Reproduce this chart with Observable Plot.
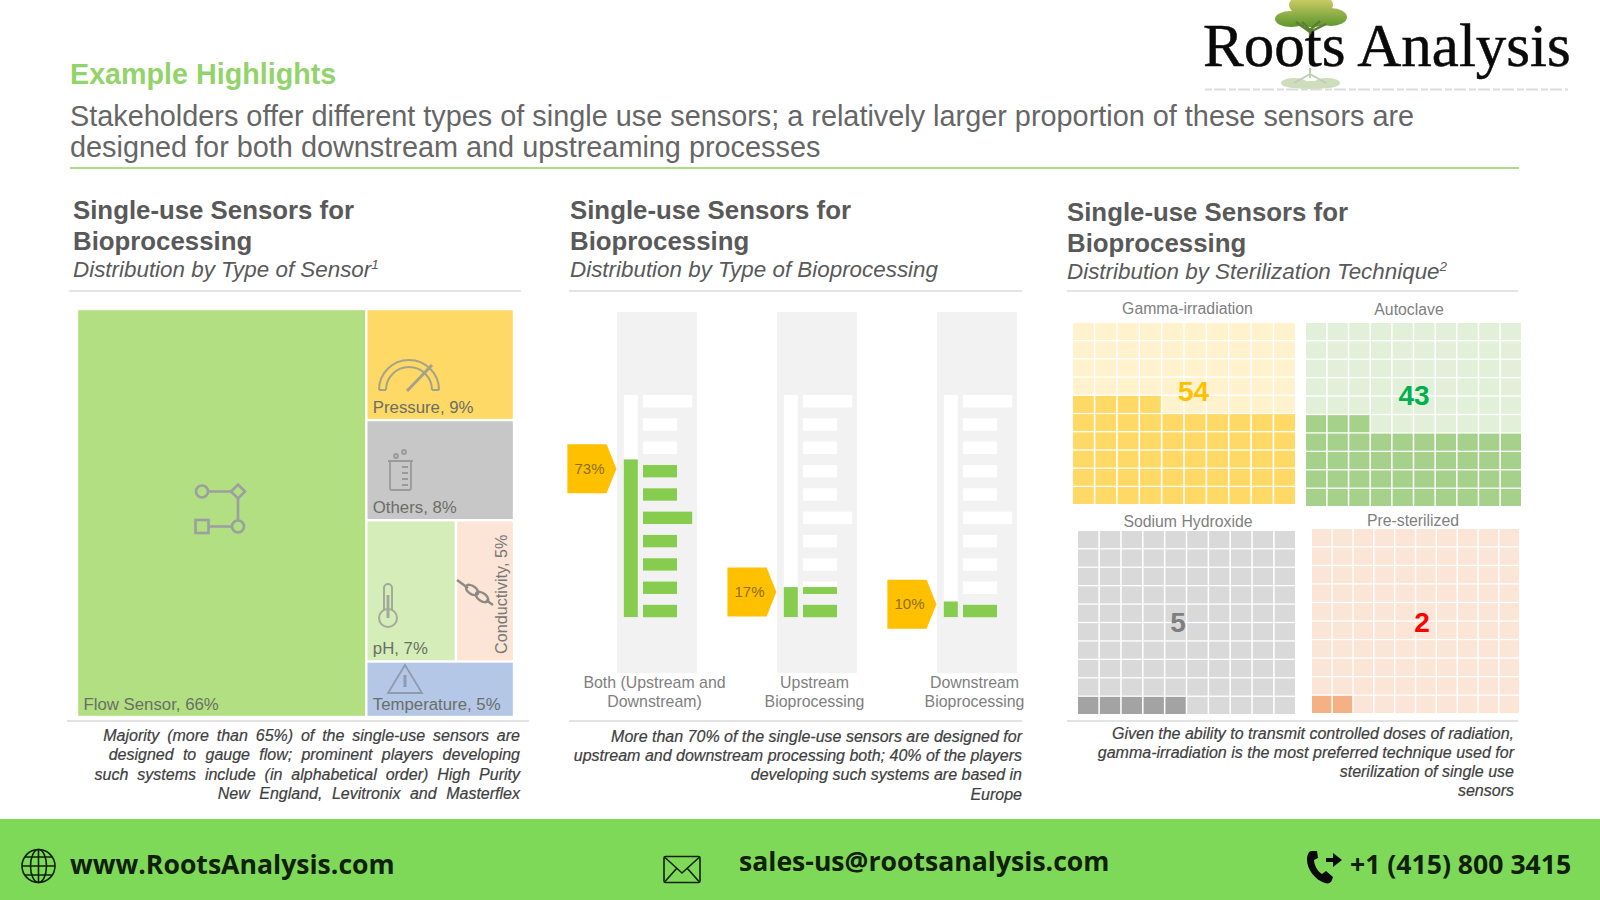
<!DOCTYPE html>
<html><head><meta charset="utf-8">
<script src="https://cdn.jsdelivr.net/npm/d3@7"></script>
<script src="https://cdn.jsdelivr.net/npm/@observablehq/plot@0.6"></script>
<style>
html,body{margin:0;padding:0;background:#fff}
#page{position:relative;width:1600px;height:900px;overflow:hidden;font-family:"Liberation Sans",Arial,sans-serif;background:#fff}
#page>*{position:absolute}
.t{white-space:nowrap;line-height:1}
.h{font-weight:700;font-size:25.8px;color:#595959}
.s{font-style:italic;font-size:22.4px;color:#595959}
.r{height:2px;background:#e3e3e3}
.c{font-style:italic;font-size:16px;color:#404040;text-align:right;-webkit-text-stroke:.2px #404040}
.f{font-family:"Open Sans",sans-serif;font-weight:700;font-size:26.6px;color:#10200a}
sup{font-size:60%;line-height:0}
</style></head><body><div id="page"></div>
<script>
// ---------- Panel 1: sensor type treemap ----------
const sensors = ["Flow Sensor","Pressure","Others","pH","Conductivity","Temperature"];
const sensorShares = [66,9,8,7,5,5];
const sensorAreas = [66.2,9.2,8.3,7.1,4.6,4.6];   // tile areas
const sensorColors = ["#b1df82","#ffd966","#c7c7c7","#d5edb8","#fce4d6","#b4c7e7"];

// ---------- Panel 2: bioprocessing type ----------
const processTypes = ["Both (Upstream and\nDownstream)","Upstream\nBioprocessing","Downstream\nBioprocessing"];
const processShares = [73,17,10];
const gaugeLevels = [71,13.5,7];
const calloutLevels = [67,11.5,6];
const gaugeRows = [0,1,2,3,4,5,6,7,8,9];
const longRows = [0,5];

// ---------- Panel 3: sterilization waffles ----------
const techniques = ["Gamma-irradiation","Autoclave","Sodium Hydroxide","Pre-sterilized"];
const techniqueCounts = [54,43,5,2];
const fullColors = ["#ffd966","#a5d18a","#a3a3a3","#f4b183"];
const emptyColors = ["#fff2cc","#e2f0d9","#d9d9d9","#fbe5d6"];
const numberColors = ["#ffc000","#00b050","#7f7f7f","#ff0000"];

const page = document.getElementById("page");
function place(el,l,t){el.style.position="absolute";el.style.left=l+"px";el.style.top=t+"px";page.appendChild(el);return el;}
function text(cls,html,l,t,extra){const d=document.createElement("div");d.className="t "+cls;d.innerHTML=html;if(extra)Object.assign(d.style,extra);return place(d,l,t);}
function rule(cls,l,t,w,col){const d=document.createElement("div");d.className=cls;d.style.width=w+"px";if(col)d.style.background=col;return place(d,l,t);}

// ---- logo (under chart text) ----
const deco = document.createElement("div");
deco.innerHTML = `<svg width="1600" height="900" style="display:block">
<defs>
<linearGradient id="tg" gradientUnits="userSpaceOnUse" x1="0" y1="0" x2="0" y2="30"><stop offset="0" stop-color="#c9c962"/><stop offset="1" stop-color="#4f9128"/></linearGradient>
<filter id="b"><feGaussianBlur stdDeviation="0.7"/></filter>
</defs>
<g filter="url(#b)">
<g fill="url(#tg)"><ellipse cx="1311" cy="5" rx="22" ry="12"/><ellipse cx="1291" cy="19" rx="16" ry="8"/><ellipse cx="1331" cy="17" rx="16" ry="9"/><ellipse cx="1311" cy="18" rx="26" ry="9"/></g>
<path d="M1310 40V28M1310 32L1296 22M1310 30L1302 22M1310 30L1320 21M1310 32L1326 24" stroke="#5b7f32" stroke-width="2.4" fill="none"/>
<g opacity=".38"><g fill="#7fa64f"><ellipse cx="1294" cy="83" rx="13" ry="5"/><ellipse cx="1327" cy="83" rx="13" ry="5"/><ellipse cx="1311" cy="85" rx="26" ry="4"/></g>
<path d="M1310 68V78M1310 74L1294 83M1310 74L1326 83" stroke="#5b7f32" stroke-width="2" fill="none"/></g>
</g>
<line x1="1205" x2="1568" y1="89.5" y2="89.5" stroke="#dcdcdc" stroke-width="2" stroke-dasharray="7 2 12 3"/>
<rect x="0" y="819" width="1600" height="81" fill="#7fd959"/>
<g fill="none" stroke="#10200a" stroke-width="1.6">
<circle cx="38.5" cy="866" r="16.5"/><ellipse cx="38.5" cy="866" rx="8" ry="16.5"/><path d="M38.5 849.5V882.5M22 866H55M25 857H52M25 875H52"/>
<rect x="664" y="856.5" width="36" height="26" rx="1.5"/><path d="M665 857.5L682 873L699 857.5M665 881.5L677 868M699 881.5L687 868"/>
</g>
<path d="M1311 851c-3 1-4 5-4 9c0 9 8 20 18 23c3 1 6 0 7-3l1-3l-7-6l-4 3c-4-2-8-9-8-14l4-2l-1-7z" fill="#0a0a0a"/>
<path d="M1326 858h7v-5l9 7l-9 7v-5h-7z" fill="#0a0a0a"/>
</svg>`;
place(deco,0,0);

text("", "Roots Analysis",1203,15,{fontFamily:"'Liberation Serif',serif",fontSize:"61px",color:"#0a0a0a",webkitTextStroke:".5px #0a0a0a"});

// ---- headings ----
text("","Example Highlights",70,60,{fontWeight:700,fontSize:"28.7px",color:"#92d36a"});
text("","Stakeholders offer different types of single use sensors; a relatively larger proportion of these sensors are",70,102,{fontSize:"28.85px",color:"#666"});
text("","designed for both downstream and upstreaming processes",70,133,{fontSize:"28.85px",color:"#666"});
rule("r",70,167,1449,"#a9dd88");

const subs = ["Distribution by Type of Sensor<sup>1</sup>","Distribution by Type of Bioprocessing","Distribution by Sterilization Technique<sup>2</sup>"];
[[73,198],[570,198],[1067,200]].forEach(([x,y],i)=>{
  text("h","Single-use Sensors for",x,y);
  text("h","Bioprocessing",x,y+31);
  text("s",subs[i],x,y+61);
});
rule("r",69,290,452); rule("r",569,290,453); rule("r",1067,290,451);
rule("r",67,720,462); rule("r",569,720,453); rule("r",1067,720,451);

// ---------- treemap ----------
(function(){
  const [fl,pr,ot,ph,co,te]=sensorAreas, W=d3.sum(sensorAreas), col=W-fl;
  const y1=pr/col*100, y2=y1+ot/col*100, y3=y2+(ph+co)/col*100, xs=fl+col*ph/(ph+co);
  const boxes=[[0,fl,0,100],[fl,W,0,y1],[fl,W,y1,y2],[fl,xs,y2,y3],[xs,W,y2,y3],[fl,W,y3,100]];
  const tiles=sensors.map((name,i)=>({name,label:`${name}, ${sensorShares[i]}%`,x1:boxes[i][0],x2:boxes[i][1],y1:boxes[i][2],y2:boxes[i][3]}));
  const normal=tiles.filter(d=>d.name!=="Conductivity"), rot=tiles.filter(d=>d.name==="Conductivity");
  const chart=Plot.plot({width:437,height:408,margin:0,
    style:{background:"transparent",fontFamily:"'Liberation Sans',Arial,sans-serif",overflow:"visible"},
    x:{domain:[0,W],axis:null},y:{domain:[100,0],axis:null},
    color:{domain:sensors,range:sensorColors},
    marks:[
      Plot.rect(tiles,{x1:"x1",x2:"x2",y1:"y1",y2:"y2",fill:"name",inset:1.2}),
      Plot.text(normal,{x:"x1",y:"y2",text:"label",textAnchor:"start",dx:6,dy:-13,fontSize:16.8,fill:"#6a6f66"}),
      Plot.text(rot,{x:"x2",y:"y2",text:"label",textAnchor:"start",rotate:-90,dx:-13,dy:-8,fontSize:16.2,fill:"#777"})
    ]});
  place(chart,77,309);
})();

// ---------- gauges ----------
(function(){
  const cats=processTypes, rows=[], fill=[], tube=[], call=[];
  const step=10.5,h=5.6;
  cats.forEach((cat,i)=>{
    tube.push({cat,level:gaugeLevels[i],share:processShares[i]+"%",call:calloutLevels[i]});
    gaugeRows.forEach(k=>{
      const top=100-k*step, bottom=top-h, right=longRows.includes(k)?94:75;
      rows.push({cat,top,bottom,right});
      if(bottom<gaugeLevels[i]) fill.push({cat,top:Math.min(top,gaugeLevels[i]),bottom,right:75});
    });
  });
  fill.forEach(d=>{ if(d.cat===cats[0]&&d.top===100-5*step) d.right=94; });
  const pent={draw(c,size){const r=Math.sqrt(size/Math.PI);
    c.moveTo(-r,-r);c.lineTo(.6*r,-r);c.lineTo(r,0);c.lineTo(.6*r,r);c.lineTo(-r,r);c.closePath();}};
  const chart=Plot.plot({width:480,height:413,marginTop:0,marginBottom:52,marginLeft:0,marginRight:0,
    style:{background:"transparent",fontFamily:"'Liberation Sans',Arial,sans-serif",overflow:"visible"},
    fx:{domain:cats,padding:0,axis:null},
    x:{domain:[-100,100],axis:null},
    y:{domain:[-25.2,137.4],axis:null},
    marks:[
      Plot.rect(tube,{fx:"cat",x1:0,x2:100,y1:-25.2,y2:137.4,fill:"#f2f2f2"}),
      Plot.rect(tube,{fx:"cat",x1:8.5,x2:26,y1:0,y2:100,fill:"#fff"}),
      Plot.rect(rows,{fx:"cat",x1:32.5,x2:"right",y1:"bottom",y2:"top",fill:"#fff"}),
      Plot.rect(tube,{fx:"cat",x1:8.5,x2:26,y1:0,y2:"level",fill:"#86cc4f"}),
      Plot.rect(fill,{fx:"cat",x1:32.5,x2:"right",y1:"bottom",y2:"top",fill:"#86cc4f"}),
      Plot.dot(tube,{fx:"cat",x:-32,y:"call",r:24.5,symbol:pent,fill:"#ffc000",stroke:"none"}),
      Plot.text(tube,{fx:"cat",x:-35,y:"call",text:"share",fontSize:15,fill:"#8a6f1c"}),
      Plot.axisFx({anchor:"bottom",tickSize:0,label:null,dx:37,tickPadding:1,fontSize:15.9,lineHeight:1.2,fill:"#808080"})
    ]});
  place(chart,537,312);
})();

// ---------- waffles ----------
const wafflePos=[[1073,323,222,181],[1306,323,215,183],[1078,531,217,183],[1312,529,207,184]];
const numberOffsets=[[9,-22],[0,-19],[-9,0],[6,2]];
const titleOffsets=[[3,-21],[-5,-20],[1,-16],[-3,-15]];
techniques.forEach((name,i)=>{
  const [l,t,w,h]=wafflePos[i], n=techniqueCounts[i], cells=[];
  for(let r=0;r<10;r++)for(let c=0;c<10;c++)cells.push({c,r,on:r*10+c<n?"full":"empty"});
  const top=26;
  const chart=Plot.plot({width:w,height:h+top,marginTop:top,marginBottom:0,marginLeft:0,marginRight:0,
    style:{background:"transparent",fontFamily:"'Liberation Sans',Arial,sans-serif",overflow:"visible"},
    x:{type:"band",domain:d3.range(10),paddingInner:.07,paddingOuter:0,round:false,axis:null},
    y:{type:"band",domain:d3.range(9,-1,-1),paddingInner:.07,paddingOuter:0,round:false,axis:null},
    color:{domain:["full","empty"],range:[fullColors[i],emptyColors[i]]},
    marks:[
      Plot.cell(cells,{x:"c",y:"r",fill:"on"}),
      Plot.text([name],{frameAnchor:"top",dx:titleOffsets[i][0],dy:titleOffsets[i][1],fontSize:15.8,fill:"#808080"}),
      Plot.text([n],{frameAnchor:"middle",dx:numberOffsets[i][0],dy:numberOffsets[i][1],fontSize:28,fontWeight:700,fill:numberColors[i]})
    ]});
  place(chart,l,t-top);
});

// ---- captions ----
const captions=[
 {right:520,top:[728,747,767,786],gap:[3.4,4.8,4.5,5.1],lines:["Majority (more than 65%) of the single-use sensors are","designed to gauge flow; prominent players developing","such systems include (in alphabetical order) High Purity","New England, Levitronix and Masterflex"]},
 {right:1022,top:[729,748,767,787],gap:[0,0,0,0],lines:["More than 70% of the single-use sensors are designed for","upstream and downstream processing both; 40% of the players","developing such systems are based in","Europe"]},
 {right:1514,top:[726,745,764,783],gap:[0,0,0,0],lines:["Given the ability to transmit controlled doses of radiation,","gamma-irradiation is the most preferred technique used for","sterilization of single use","sensors"]}
];
captions.forEach(cp=>cp.lines.forEach((line,i)=>{
  const d=text("c",line,0,cp.top[i],{wordSpacing:cp.gap[i]+"px"});d.style.left="auto";d.style.right=(1600-cp.right)+"px";
}));

// ---- icons over treemap ----
const ic=document.createElement("div");
ic.innerHTML=`<svg width="1600" height="900" style="display:block"><g fill="none" stroke="#9c9fa0" stroke-width="2.6" filter="url(#b)">
<circle cx="202" cy="491.5" r="6"/><path d="M238 484.5l7 7l-7 7l-7-7z"/><circle cx="238" cy="526.5" r="6"/><rect x="195.500" y="520" width="13" height="13"/>
<path d="M208 491.500H231M238 498V520M232 526.500H209"/>
<g stroke="#a5a28a" stroke-width="2"><path d="M379 390a30 30 0 0 1 60 0M386 390a23 23 0 0 1 46 0M379 390h7M432 390h7"/><path d="M407 391L432 365" stroke-width="3"/></g>
<g stroke="#9a9a9a" stroke-width="1.8"><path d="M388 461h25M390 461V488a2 2 0 0 0 2 2h17a2 2 0 0 0 2-2V461M402 467h6M402 473h6M402 479h6M402 485h6"/><circle cx="396" cy="456" r="2"/><circle cx="404" cy="452" r="2"/></g>
<g stroke="#a3aa99" stroke-width="2"><circle cx="388" cy="618" r="9"/><path d="M384 610V588a4 4 0 0 1 8 0V610"/><path d="M388 595V618" stroke-width="3"/></g>
<g stroke="#8d8a85" stroke-width="2.4"><path d="M457 580L468 588M486 600L493 605"/><ellipse cx="472" cy="590" rx="7" ry="4" transform="rotate(35 472 590)"/><ellipse cx="482" cy="597" rx="7" ry="4" transform="rotate(35 482 597)"/></g>
<g stroke="#8f9aae" stroke-width="1.8"><path d="M405 665L388 693H422Z"/><path d="M405 675V687" stroke-width="3"/></g>
</g></svg>`;
place(ic,0,0);ic.style.pointerEvents="none";

// ---- footer text ----
text("f","www.RootsAnalysis.com",70,851);
text("f","sales-us@rootsanalysis.com",739,848);
text("f","+1 (415) 800 3415",1350,851);
</script></body></html>
